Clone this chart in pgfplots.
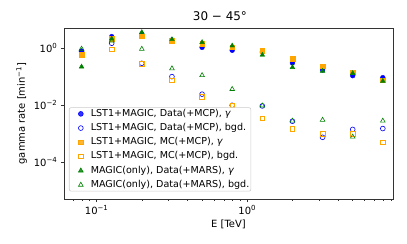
\documentclass[border=0pt]{standalone}
\usepackage{fontspec}
\setmainfont{DejaVu Sans}
\usepackage{pgfplots}
\pgfplotsset{compat=1.18}
\definecolor{mblue}{RGB}{0,0,255}
\definecolor{morange}{RGB}{255,165,0}
\definecolor{mgreen}{RGB}{0,128,0}
\newcommand\tp[1]{10\textsuperscript{#1}}
\begin{document}
\begin{tikzpicture}[x=1bp,y=1bp]
\useasboundingbox (-64,-45) rectangle (343,199);
\begin{axis}[
  at={(0,0)}, anchor=south west,
  scale only axis, width=329bp, height=171bp,
  xmode=log, ymode=log,
  xmin=0.0607, xmax=9.28, ymin=5.1e-6, ymax=5.0,
  tick align=outside, tick pos=left,
  xtick={0.1,1}, xticklabels={\tp{−1},\tp{0}},
  minor xtick={0.07,0.08,0.09,0.2,0.3,0.4,0.5,0.6,0.7,0.8,0.9,2,3,4,5,6,7,8,9},
  ytick={1e-4,1e-2,1}, yticklabels={\tp{−4},\tp{−2},\tp{0}},
  minor ytick={},
  major tick length=3.2bp, minor tick length=1.8bp,
  every tick/.style={black!80, line width=0.6bp},
  axis line style={line width=0.7bp, black!80},
  ticklabel style={font=\fontsize{10}{12}\selectfont},
  xlabel={E [TeV]}, ylabel={gamma rate [min\textsuperscript{−1}]},
  label style={font=\fontsize{10}{12}\selectfont},
  xlabel style={yshift=2bp},
  title={30 − 45°},
  title style={font=\fontsize{12}{14}\selectfont, at={(0.474,1)}, anchor=south, yshift=-2bp},
  legend cell align=left,
  legend style={at={(0.015,0.044)}, anchor=south west,
    font=\fontsize{9.6}{11}\selectfont, draw=black!20, line width=0.6bp,
    rounded corners=2bp, fill=white, fill opacity=0.8, text opacity=1,
    row sep=2.8bp, inner sep=0.6bp,
    nodes={inner sep=1bp, text height=7.2bp, text depth=2.2bp}},
  legend image code/.code={\path[draw=none,fill=none] (0bp,0bp) (20bp,0bp); \draw[#1] plot coordinates {(11bp,0bp)};},
]
\addplot[only marks, mark=*, mark size=2.4bp, mblue, mark options={fill=mblue, draw=mblue}]
coordinates {(0.0794,0.78)(0.1259,2.5)(0.1995,3.0)(0.3162,1.9)(0.5012,1.05)(0.7943,0.83)(1.259,0.72)(1.995,0.30)(3.162,0.17)(5.012,0.107)(7.943,0.091)};
\addlegendentry{LST1+MAGIC, Data(+MCP), \textit{γ}}
\addplot[only marks, mark=o, mark size=2.4bp, mblue, mark options={draw=mblue, line width=0.6bp}]
coordinates {(0.0794,0.75)(0.1259,1.46)(0.1995,0.29)(0.3162,0.099)(0.5012,0.024)(0.7943,0.0098)(1.259,0.0093)(1.995,0.0027)(3.162,0.00074)(5.012,0.0014)(7.943,0.0015)};
\addlegendentry{LST1+MAGIC, Data(+MCP), bgd.}
\addplot[only marks, mark=square*, mark size=2.3bp, morange, mark options={fill=morange, draw=morange}]
coordinates {(0.0794,0.55)(0.1259,2.15)(0.1995,2.6)(0.3162,1.8)(0.5012,1.38)(0.7943,1.06)(1.259,0.80)(1.995,0.43)(3.162,0.23)(5.012,0.14)(7.943,0.075)};
\addlegendentry{LST1+MAGIC, MC(+MCP), \textit{γ}}
\addplot[only marks, mark=square, mark size=2.3bp, morange, mark options={draw=morange, line width=0.6bp}]
coordinates {(0.0794,0.57)(0.1259,0.90)(0.1995,0.28)(0.3162,0.073)(0.5012,0.0195)(0.7943,0.0098)(1.259,0.0034)(1.995,0.0015)(3.162,0.00096)(5.012,0.0010)(7.943,0.00049)};
\addlegendentry{LST1+MAGIC, MC(+MCP), bgd.}
\addplot[only marks, mark=triangle*, mark size=2.7bp, mgreen, mark options={fill=mgreen, draw=mgreen}]
coordinates {(0.0794,0.22)(0.1259,2.1)(0.1995,3.55)(0.3162,2.0)(0.5012,1.58)(0.7943,1.2)(1.259,0.57)(1.995,0.21)(3.162,0.155)(5.012,0.13)(7.943,0.069)};
\addlegendentry{MAGIC(only), Data(+MARS), \textit{γ}}
\addplot[only marks, mark=triangle, mark size=2.7bp, mgreen, mark options={draw=mgreen, line width=0.6bp}]
coordinates {(0.0794,0.93)(0.1259,1.8)(0.1995,0.92)(0.3162,0.19)(0.5012,0.11)(0.7943,0.036)(1.259,0.0095)(1.995,0.0028)(3.162,0.0030)(5.012,0.00077)(7.943,0.0028)};
\addlegendentry{MAGIC(only), Data(+MARS), bgd.}
\end{axis}
\end{tikzpicture}
\end{document}
